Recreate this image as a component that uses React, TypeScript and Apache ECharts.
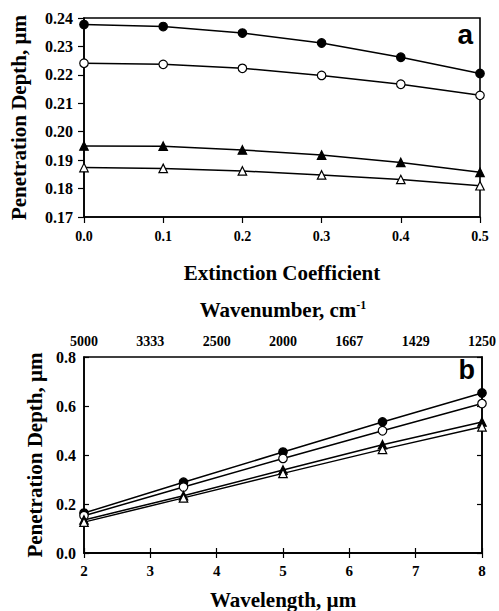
import React, { useEffect, useRef } from "react";
import * as echarts from "echarts";

const extinction = [0, 0.1, 0.2, 0.3, 0.4, 0.5];
const aFilledCircle = [0.2377, 0.237, 0.2347, 0.2312, 0.2262, 0.2205];
const aOpenCircle = [0.2241, 0.2237, 0.2223, 0.2198, 0.2167, 0.2128];
const aFilledTri = [0.195, 0.1949, 0.1936, 0.1918, 0.1892, 0.1857];
const aOpenTri = [0.1874, 0.1871, 0.1862, 0.1848, 0.1832, 0.181];

const wavelength = [2, 3.5, 5, 6.5, 8];
const bFilledCircle = [0.163, 0.289, 0.412, 0.535, 0.653];
const bOpenCircle = [0.152, 0.269, 0.386, 0.499, 0.61];
const bFilledTri = [0.135, 0.234, 0.339, 0.442, 0.535];
const bOpenTri = [0.126, 0.225, 0.325, 0.423, 0.515];

const FONT = "'Liberation Serif', 'Times New Roman', serif";

export default function App() {
  const ref = useRef<HTMLDivElement>(null);
  useEffect(() => {
    document.body.style.margin = "0";
    const chart = echarts.init(ref.current!, null, { renderer: "svg" });
    const lbl = (size: number) => ({
      color: "#000",
      fontFamily: FONT,
      fontWeight: "bold" as const,
      fontSize: size,
    });
    const nameStyle = {
      color: "#000",
      fontFamily: FONT,
      fontWeight: "bold" as const,
      fontSize: 21,
    };
    const axisLine = { show: true, lineStyle: { color: "#000", width: 1.6 } };
    const mk = (
      name: string,
      xIdx: number,
      yIdx: number,
      xs: number[],
      ys: number[],
      symbol: string,
      filled: boolean
    ) => ({
      type: "line",
      name,
      xAxisIndex: xIdx,
      yAxisIndex: yIdx,
      data: xs.map((x, i) => [x, ys[i]]),
      symbol,
      symbolSize: 8.5,
      showAllSymbol: true,
      lineStyle: { color: "#000", width: 1.5 },
      itemStyle: {
        color: filled ? "#000" : "#fff",
        borderColor: "#000",
        borderWidth: 1.2,
      },
      z: 5,
    });
    chart.setOption({
      animation: false,
      backgroundColor: "#fff",
      grid: [
        {
          left: 82,
          top: 18,
          width: 398,
          height: 199,
          show: true,
          borderColor: "#000",
          borderWidth: 1.6,
        },
        {
          left: 84,
          top: 357,
          width: 398,
          height: 199,
          show: true,
          borderColor: "#000",
          borderWidth: 1.6,
        },
      ],
      xAxis: [
        {
          type: "value",
          gridIndex: 0,
          min: 0,
          max: 0.5,
          interval: 0.1,
          position: "bottom",
          axisLine,
          axisTick: { show: true, inside: false, length: 6, lineStyle: { color: "#000", width: 1.2 } },
          axisLabel: { ...lbl(14), margin: 12, formatter: (v: number) => v.toFixed(1) },
          splitLine: { show: false },
          name: "Extinction Coefficient",
          nameLocation: "middle",
          nameGap: 45,
          nameTextStyle: nameStyle,
        },
        {
          type: "value",
          gridIndex: 1,
          min: 2,
          max: 8,
          interval: 1,
          position: "bottom",
          axisLine,
          axisTick: { show: true, inside: true, length: 5, lineStyle: { color: "#000", width: 1.2 } },
          axisLabel: { ...lbl(15), margin: 10, formatter: (v: number) => String(v) },
          splitLine: { show: false },
          name: "Wavelength, µm",
          nameLocation: "middle",
          nameGap: 36,
          nameTextStyle: nameStyle,
        },
        {
          type: "value",
          gridIndex: 1,
          min: 2,
          max: 8,
          interval: 1,
          position: "top",
          axisLine,
          axisTick: { show: true, inside: true, length: 5, lineStyle: { color: "#000", width: 1.2 } },
          axisLabel: {
            ...lbl(14),
            margin: 9,
            formatter: (v: number) => String(Math.round(10000 / v)),
          },
          splitLine: { show: false },
          name: "{n|Wavenumber, cm}{s|-1}",
          nameLocation: "middle",
          nameGap: 36,
          nameTextStyle: {
            ...nameStyle,
            rich: {
              n: { ...nameStyle },
              s: { ...nameStyle, fontSize: 12, padding: [0, 0, 10, 0] },
            },
          },
        },
      ],
      yAxis: [
        {
          type: "value",
          gridIndex: 0,
          min: 0.17,
          max: 0.24,
          interval: 0.01,
          axisLine,
          axisTick: { show: true, inside: false, length: 6, lineStyle: { color: "#000", width: 1.2 } },
          axisLabel: { ...lbl(16), margin: 11, formatter: (v: number) => v.toFixed(2) },
          splitLine: { show: false },
          name: "Penetration Depth, µm",
          nameLocation: "middle",
          nameGap: 55,
          nameTextStyle: nameStyle,
        },
        {
          type: "value",
          gridIndex: 1,
          min: 0,
          max: 0.8,
          interval: 0.2,
          axisLine,
          axisTick: { show: true, inside: true, length: 5, lineStyle: { color: "#000", width: 1.2 } },
          axisLabel: { ...lbl(16), margin: 8, formatter: (v: number) => v.toFixed(1) },
          splitLine: { show: false },
          name: "Penetration Depth, µm",
          nameLocation: "middle",
          nameGap: 38,
          nameTextStyle: nameStyle,
        },
        {
          type: "value",
          gridIndex: 1,
          min: 0,
          max: 0.8,
          interval: 0.2,
          position: "right",
          axisLine,
          axisTick: { show: true, inside: true, length: 5, lineStyle: { color: "#000", width: 1.2 } },
          axisLabel: { show: false },
          splitLine: { show: false },
        },
      ],
      series: [
        mk("a1", 0, 0, extinction, aFilledCircle, "circle", true),
        mk("a2", 0, 0, extinction, aOpenCircle, "circle", false),
        mk("a3", 0, 0, extinction, aFilledTri, "triangle", true),
        mk("a4", 0, 0, extinction, aOpenTri, "triangle", false),
        mk("b1", 1, 1, wavelength, bFilledCircle, "circle", true),
        mk("b2", 1, 1, wavelength, bOpenCircle, "circle", false),
        mk("b3", 1, 1, wavelength, bFilledTri, "triangle", true),
        mk("b4", 1, 1, wavelength, bOpenTri, "triangle", false),
      ],
      graphic: [
        {
          type: "text",
          right: 26,
          top: 20,
          style: {
            text: "a",
            fill: "#000",
            font: "bold 28px 'Liberation Sans', Arial, sans-serif",
          },
        },
        {
          type: "text",
          right: 24,
          top: 356,
          style: {
            text: "b",
            fill: "#000",
            font: "bold 27px 'Liberation Sans', Arial, sans-serif",
          },
        },
      ],
    });
    return () => chart.dispose();
  }, []);
  return (
    <div
      ref={ref}
      style={{ position: "fixed", left: 0, top: 0, width: 499, height: 611 }}
    />
  );
}
